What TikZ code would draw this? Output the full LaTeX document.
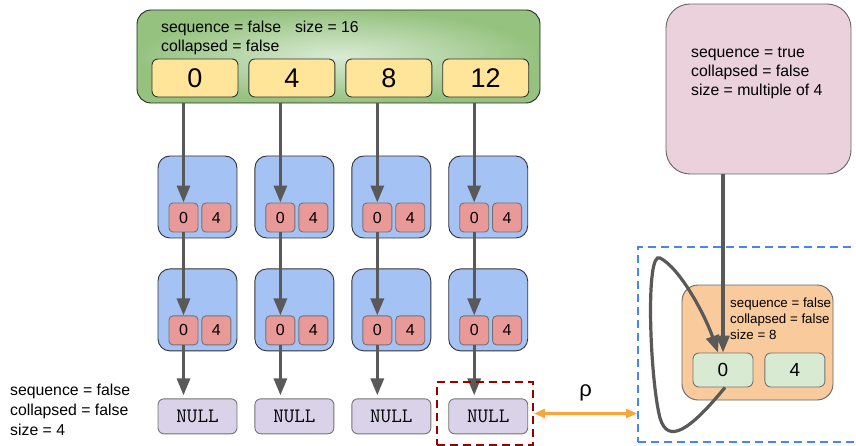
\documentclass[tikz,border=0pt]{standalone}
\usepackage{fontspec}
\setmainfont{Liberation Sans}
\usetikzlibrary{positioning}
\usetikzlibrary{arrows.meta}

\definecolor{topin}{HTML}{DAEBD5}
\definecolor{topout}{HTML}{95C27F}
\definecolor{idxyellow}{HTML}{FFE599}
\definecolor{blkblue}{HTML}{A4C2F4}
\definecolor{cellred}{HTML}{EA9999}
\definecolor{nullpurple}{HTML}{D9D2E9}
\definecolor{seqpink}{HTML}{EAD1DC}
\definecolor{chunkorange}{HTML}{F9CB9C}
\definecolor{cellgreen}{HTML}{D9EAD3}
\definecolor{ptrgray}{HTML}{595959}
\definecolor{framblue}{HTML}{4A86E8}
\definecolor{selred}{HTML}{990000}
\definecolor{rhoorange}{HTML}{F9A53A}

\begin{document}
\begin{tikzpicture}[x=1pt,y=-1pt,
    box/.style={draw=black!80,line width=0.9pt,rounded corners=6pt,inner sep=0pt},
    idx/.style={box,fill=idxyellow,minimum width=86pt,minimum height=38pt,font=\fontsize{27}{27}\selectfont},
    blk/.style={box,fill=blkblue,rounded corners=12pt,minimum width=79pt,minimum height=82pt},
    cell/.style={box,draw=black!55,fill=cellred,rounded corners=4pt,minimum width=29pt,minimum height=29pt,font=\fontsize{16}{16}\selectfont},
    gcell/.style={box,draw=black!55,fill=cellgreen,minimum width=60pt,minimum height=34pt,font=\fontsize{19}{19}\selectfont},
    nul/.style={box,draw=black!55,fill=nullpurple,minimum width=79pt,minimum height=35pt,font=\ttfamily\fontsize{20.5}{20.5}\selectfont},
    lbl/.style={align=left,inner sep=0pt,anchor=west,font=\fontsize{15.8}{19}\selectfont},
    ptr/.style={draw=ptrgray,line width=3.2pt,-{Triangle[length=17pt,width=13pt]}},
    rho/.style={draw=rhoorange,line width=2.2pt,{Triangle[length=11pt,width=9pt]}-{Triangle[length=11pt,width=9pt]}},
    node distance=10pt]
        \useasboundingbox (0,0) rectangle (856,446);
        %
        \node[box,draw=black!85,rounded corners=14pt,inner color=topin,outer color=topout,minimum width=403pt,minimum height=93pt](top) at (338.5,56.5){};
        \node[lbl](toptxt) at (161,37.5){sequence = false\hspace{14pt}size = 16\\collapsed = false};
        \node[idx](i0) at (195,78){0};
        \node[idx,right=of i0](i4){4};
        \node[idx,right=of i4](i8){8};
        \node[idx,right=of i8](i12){12};
        %
        \node[blk](a1) at (197.5,197){};
        \node[blk,right=17pt of a1](a2){};
        \node[blk,right=17pt of a2](a3){};
        \node[blk,right=17pt of a3](a4){};
        \node[blk,below=30pt of a1](b1){};
        \node[blk,below=30pt of a2](b2){};
        \node[blk,below=30pt of a3](b3){};
        \node[blk,below=30pt of a4](b4){};
        %
        \node[cell,anchor=south west](a1z) at ([xshift=11pt,yshift=6pt]a1.south west){0};
        \node[cell,right=3pt of a1z](a1f){4};
        \node[cell,anchor=south west](a2z) at ([xshift=11pt,yshift=6pt]a2.south west){0};
        \node[cell,right=3pt of a2z](a2f){4};
        \node[cell,anchor=south west](a3z) at ([xshift=11pt,yshift=6pt]a3.south west){0};
        \node[cell,right=3pt of a3z](a3f){4};
        \node[cell,anchor=south west](a4z) at ([xshift=11pt,yshift=6pt]a4.south west){0};
        \node[cell,right=3pt of a4z](a4f){4};
        \node[cell,anchor=south west](b1z) at ([xshift=11pt,yshift=6pt]b1.south west){0};
        \node[cell,right=3pt of b1z](b1f){4};
        \node[cell,anchor=south west](b2z) at ([xshift=11pt,yshift=6pt]b2.south west){0};
        \node[cell,right=3pt of b2z](b2f){4};
        \node[cell,anchor=south west](b3z) at ([xshift=11pt,yshift=6pt]b3.south west){0};
        \node[cell,right=3pt of b3z](b3f){4};
        \node[cell,anchor=south west](b4z) at ([xshift=11pt,yshift=6pt]b4.south west){0};
        \node[cell,right=3pt of b4z](b4f){4};
        %
        \node[nul,below=47pt of b1](n1){NULL};
        \node[nul,below=47pt of b2](n2){NULL};
        \node[nul,below=47pt of b3](n3){NULL};
        \node[nul,below=47pt of b4](n4){NULL};
        \node[lbl,font=\fontsize{15.8}{20}\selectfont](lefttxt) at (10,410){sequence = false\\collapsed = false\\size = 4};
        %
        \draw[ptr] (a1z.north |- top.south) -- (a1z.north);
        \draw[ptr] (a2z.north |- top.south) -- (a2z.north);
        \draw[ptr] (a3z.north |- top.south) -- (a3z.north);
        \draw[ptr] (a4z.north |- top.south) -- (a4z.north);
        \draw[ptr] (a1z.south) -- (b1z.north);
        \draw[ptr] (a2z.south) -- (b2z.north);
        \draw[ptr] (a3z.south) -- (b3z.north);
        \draw[ptr] (a4z.south) -- (b4z.north);
        \draw[ptr,shorten >=3pt] (b1z.south) -- (b1z.south |- n1.north);
        \draw[ptr,shorten >=3pt] (b2z.south) -- (b2z.south |- n2.north);
        \draw[ptr,shorten >=3pt] (b3z.south) -- (b3z.south |- n3.north);
        \draw[ptr,shorten >=3pt] (b4z.south) -- (b4z.south |- n4.north);
        %
        \node[draw=selred,line width=2pt,dash pattern=on 8pt off 5pt,inner sep=0pt,minimum width=96pt,minimum height=63pt](sel) at (485,413.5){};
        %
        \node[box,draw=black!60,fill=seqpink,rounded corners=24pt,minimum width=185pt,minimum height=170pt](seq) at (758.5,89){};
        \node[lbl](seqtxt) at (691,73.5){sequence = true\\collapsed = false\\size = multiple of 4};
        %
        \node[draw=framblue,line width=2pt,dash pattern=on 8pt off 5pt,inner sep=0pt,minimum width=243pt,minimum height=195pt](frame) at (759.5,344.5){};
        \node[box,draw=black!60,fill=chunkorange,rounded corners=16pt,minimum width=151pt,minimum height=115pt](chunk) at (757.5,342.5){};
        \node[lbl,font=\fontsize{13.3}{16}\selectfont](chunktxt) at (730,319){sequence = false\\collapsed = false\\size = 8};
        \node[gcell](g0) at (723,370){0};
        \node[gcell,right=11pt of g0](g4){4};
        %
        \coordinate(loopbot) at (660,418);
        \coordinate(looptop) at (660,258);
        \draw[ptr] (seq.south -| g0.north) -- (g0.north);
        \draw[ptr] ([xshift=2pt]g0.south) .. controls (690,430) and (668,445) .. (loopbot)
            .. controls (650,380) and (645,250) .. (looptop)
            .. controls (680,268) and (705,315) .. ([xshift=-5pt]g0.north);
        %
        \draw[rho] (sel.east) -- node[above=11pt,inner sep=0pt,font=\fontsize{22}{22}\selectfont](rholbl){ρ} (sel.east -| frame.west);
    \end{tikzpicture}
\end{document}
